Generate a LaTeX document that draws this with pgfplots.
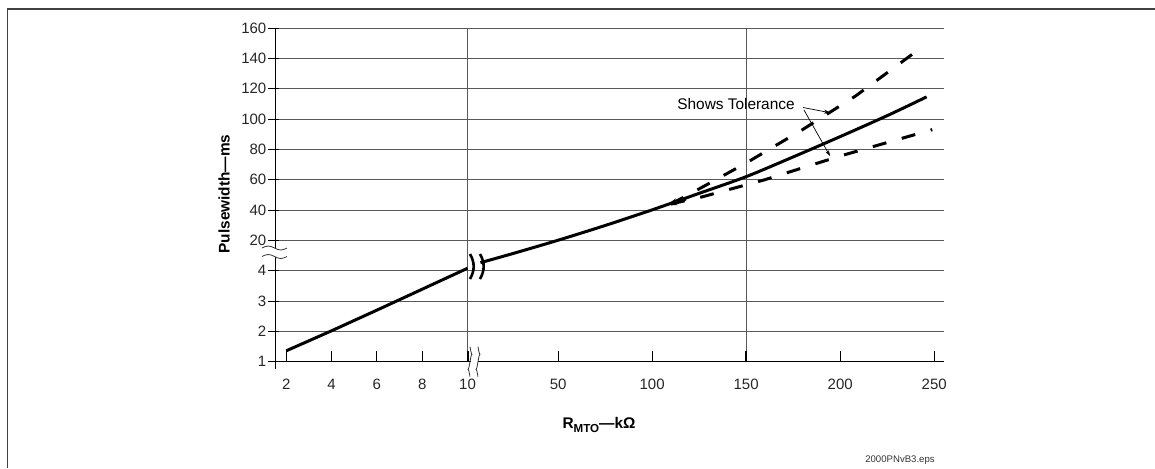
\documentclass[border=0pt]{standalone}
\usepackage{pgfplots}
\pgfplotsset{compat=1.18}
\usepackage{fontspec}
\setmainfont{Liberation Sans}
\usetikzlibrary{arrows.meta}

\begin{document}
\begin{tikzpicture}[font=\fontsize{7.5}{9}\selectfont]
\begin{axis}[
    name=ax, at={(0,0)}, anchor=south west,
    scale only axis, width=334.2pt, height=166.85pt,
    % broken axes: x 2..10 and 10..250, y 1..4 and 20..160
    x coord trafo/.code={\pgfmathparse{ifthenelse(#1<=10,(#1-2)/2,ifthenelse(#1<=50,4+(#1-10)/20,6+(#1-50)*0.0415))}},
    x coord inv trafo/.code={\pgfmathparse{ifthenelse(#1<=4,2*#1+2,ifthenelse(#1<=6,10+20*(#1-4),50+(#1-6)/0.0415))}},
    y coord trafo/.code={\pgfmathparse{ifthenelse(#1<=4.5,#1-1,#1/20+3)}},
    y coord inv trafo/.code={\pgfmathparse{ifthenelse(#1<=3.5,#1+1,(#1-3)*20)}},
    xmin=1.514, xmax=255.06, ymin=1, ymax=160,
    axis lines=left,
    axis line style={-, line width=0.6pt, black},
    xtick={2,4,6,8,10,50,100,150,200,250},
    xticklabels={2,4,6,8,10,50,100,150,200,250},
    ytick={1,2,3,4,20,40,60,80,100,120,140,160},
    yticklabels={1,2,3,4,20,40,60,80,100,120,140,160},
    xtick align=inside, ytick align=outside,
    major tick length=5.5pt,
    tick style={black, line width=0.5pt},
    y tick style={xshift=2pt},
    xticklabel style={yshift=-5pt, text=black!85},
    yticklabel style={inner sep=0pt, xshift=1.2pt, text=black!85},
    ymajorgrids,
    grid style={black!65, line width=0.5pt},
    extra x ticks={10,150},
    extra x tick labels={},
    extra x tick style={grid=major, tick style={line width=1pt}},
]
\addplot[black, line width=1.5pt] coordinates {(2,1.36) (4,2.02) (6,2.7) (8,3.39) (10,4.08)};
\addplot[black, line width=1.5pt, smooth] coordinates {(15.7,5.3) (30,11.3) (50,20.1) (75,29.8) (100,40.1) (125,51) (150,62) (175,75) (200,88.4) (225,102.2) (246,114.6)};
\addplot[black, line width=1.5pt, dash pattern=on 7pt off 8pt] coordinates {(110,44) (121,51.2) (150,71) (180,93) (208,115) (242,146)};
\addplot[black, line width=1.5pt, dash pattern=on 7pt off 8pt] coordinates {(110,44) (127,48.8) (160,60) (200,75.6) (249,93)};
\addplot[black, line width=1.5pt, -{Stealth[length=5pt,width=3.5pt]}] coordinates {(118,47.3) (108,43.4)};
\end{axis}
\begin{scope}[shift={(ax.south west)}, x=1pt, y=1pt]
% frame
\draw[black!75, line width=0.7pt] (-133.9,-53.15) -- (-133.9,176.35) -- (439.85,176.35);
% y-axis break
\fill[white] (-2,52.6) rectangle (2,56.7);
\draw[black!80, line width=0.4pt] (-6.65,56.85) sin (-3.525,57.85) cos (-0.4,56.85) sin (2.725,55.85) cos (5.85,56.85);
\draw[black!80, line width=0.4pt] (-6.65,52.6) sin (-3.525,53.6) cos (-0.4,52.6) sin (2.725,51.6) cos (5.85,52.6);
% x-axis break
\fill[white] (97.6,-0.6) rectangle (101.1,0.6);
\draw[black!80, line width=0.4pt] (97.35,7.5) sin (98.35,3.75) cos (97.35,0) sin (96.35,-3.75) cos (97.35,-7.5);
\draw[black!80, line width=0.4pt] (101.35,7.5) sin (102.35,3.75) cos (101.35,0) sin (100.35,-3.75) cos (101.35,-7.5);
% curve break
\draw[line width=1.3pt] (97.35,53.85) .. controls (99.8,49.5) and (99.8,45.7) .. (97.35,41.35);
\draw[line width=1.3pt] (102.35,53.85) .. controls (104.8,49.5) and (104.8,45.7) .. (102.35,41.35);
\draw[line width=0.6pt] (0,0) -- (0,-3.7);
% labels
\node[rotate=90, font=\bfseries\fontsize{7.7}{9}\selectfont] at (-25.65,83.85) {Pulsewidth—ms};
\node[font=\bfseries\fontsize{7.7}{9}\selectfont] at (161.85,-31.65) {R\raisebox{-0.4ex}{\fontsize{5.8}{7}\selectfont MTO}—kΩ};
\node[anchor=base east, font=\fontsize{7.7}{9}\selectfont] at (263.2,126.1) {Shows Tolerance};
\draw[-{Stealth[length=3pt,width=2pt]}, line width=0.35pt] (263.85,127.1) -- (277.35,124.5);
\draw[-{Stealth[length=3pt,width=2pt]}, line width=0.35pt] (264.35,125.85) -- (277.35,102.85);
\node[font=\fontsize{4.8}{6}\selectfont, text=black!80] at (312.35,-49.15) {2000PNvB3.eps};
\pgfresetboundingbox
\path[use as bounding box] (-137.65,-53.15) rectangle (439.85,180.85);
\end{scope}
\end{tikzpicture}
\end{document}
